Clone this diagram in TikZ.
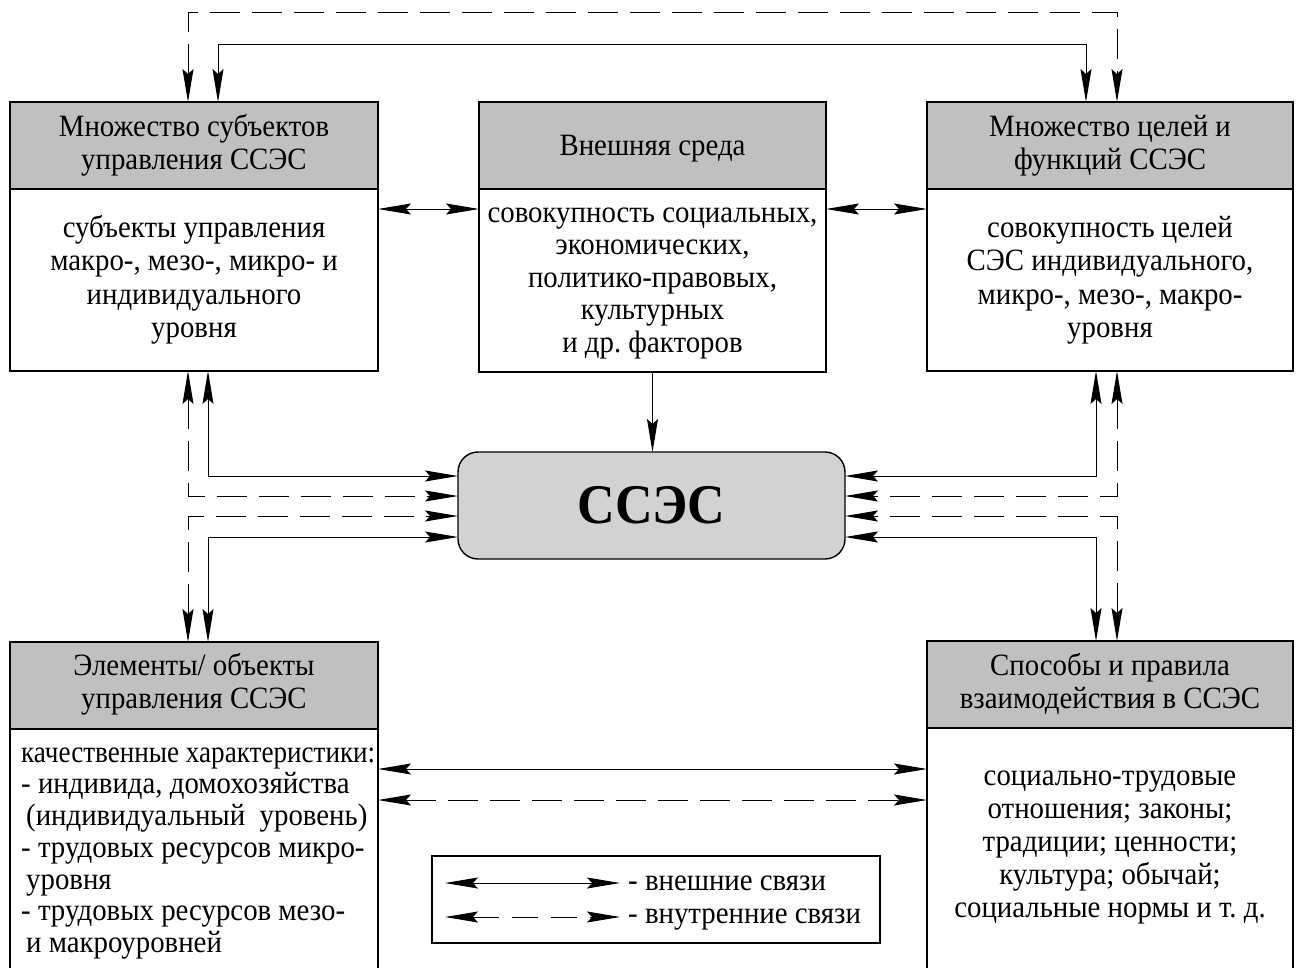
\documentclass[tikz,border=0pt]{standalone}
\usepackage{fontspec}
\setmainfont{Liberation Serif}[FakeStretch=0.93]
\newfontfamily\tightserif{Liberation Serif}[FakeStretch=0.875]
\usetikzlibrary{arrows.meta}

\definecolor{hdrgray}{RGB}{192,192,192}
\definecolor{coregray}{RGB}{210,210,210}

\tikzset{
  tip/.tip={Stealth[length=33pt,width=11pt,inset=5pt]},
  hdr/.style={draw, line width=1.4pt, fill=hdrgray, anchor=north west,
              inner sep=0pt, outer sep=0pt},
  bodybox/.style={draw, line width=1.4pt, fill=white, anchor=north west,
                  inner sep=0pt, outer sep=0pt},
  txt/.style={font=\fontsize{31}{33.5}\selectfont, align=center,
              inner sep=0pt, anchor=north},
  link/.style={line width=1pt, tip-tip},
  ilink/.style={link, dash pattern=on 30pt off 12pt},
}

\begin{document}
\frenchspacing
\begin{tikzpicture}[x=1pt,y=-1pt]
\useasboundingbox (0,0) rectangle (1300,967);
\clip (0,0) rectangle (1300,967);

% --- upper row of blocks ---
\node[hdr, minimum width=368, minimum height=87] (tlh) at (10,102) {};
\node[bodybox, minimum width=368, minimum height=182] (tl) at (tlh.south west) {};
\node[hdr, minimum width=347, minimum height=87] (mh) at (479,102) {};
\node[bodybox, minimum width=347, minimum height=183] (mid) at (mh.south west) {};
\node[hdr, minimum width=366, minimum height=87] (trh) at (927,102) {};
\node[bodybox, minimum width=366, minimum height=182] (tr) at (trh.south west) {};

% --- lower row of blocks (open at the bottom) ---
\node[hdr, minimum width=368, minimum height=87] (blh) at (10,642) {};
\node[bodybox, minimum width=368, minimum height=300] (bl) at (blh.south west) {};
\node[hdr, minimum width=366, minimum height=87] (brh) at (927,641) {};
\node[bodybox, minimum width=366, minimum height=300] (br) at (brh.south west) {};

% --- central block ---
\node[draw, line width=1.4pt, fill=coregray, rounded corners=20pt,
      minimum width=387, minimum height=107, inner sep=0pt, outer sep=0pt,
      font=\fontsize{56}{60}\selectfont\bfseries] (core) at (651.5,505.5) {ССЭС};

% --- texts ---
\node[txt] (tlht) at (194,112.5) {\strut Множество субъектов\\управления ССЭС};
\node[txt] (tlt) at (194,213.5) {\strut субъекты управления\\макро-, мезо-, микро- и\\индивидуального\\уровня};
\node[txt] (mht) at (652.5,131.5) {\strut Внешняя среда};
\node[txt, font=\fontsize{31}{32.5}\selectfont] (midt) at (652.5,199.3)
  {\strut совокупность социальных,\\экономических,\\политико-правовых,\\культурных\\и др. факторов};
\node[txt] (trht) at (1110,112.5) {\strut Множество целей и\\функций ССЭС};
\node[txt] (trt) at (1110,213.5) {\strut совокупность целей\\СЭС индивидуального,\\микро-, мезо-, макро-\\уровня};
\node[txt] (blht) at (194,651.5) {\strut Элементы/ объекты\\управления ССЭС};
\node[txt, align=left, anchor=north west, font=\fontsize{31}{31.7}\selectfont] (blt) at (21,739.8)
  {\strut{\tightserif качественные характеристики:}\\- индивида, домохозяйства\\\hspace*{5pt}(индивидуальный\ \ уровень)\\- трудовых ресурсов микро-\\\hspace*{5pt}уровня\\- трудовых ресурсов мезо-\\\hspace*{5pt}и макроуровней};
\node[txt] (brht) at (1110,651.5) {\strut Способы и правила\\взаимодействия в ССЭС};
\node[txt, font=\fontsize{31}{33}\selectfont] (brt) at (1110,761.9)
  {\strut социально-трудовые\\отношения; законы;\\традиции; ценности;\\культура; обычай;\\социальные нормы и т.~д.};

% --- connectors over the top ---
\coordinate (dTL) at (188,12);  \coordinate (dTR) at (1117,12);
\coordinate (sTL) at (218,44);  \coordinate (sTR) at (1086,44);
\draw[ilink] (tlh.north -| dTL) -- (dTL) -- (dTR) -- (trh.north -| dTR);
\draw[link]  (tlh.north -| sTL) -- (sTL) -- (sTR) -- (trh.north -| sTR);

% --- upper row: side links ---
\coordinate (h1) at (0,209);
\draw[link] (tl.east |- h1) -- (mid.west |- h1);
\draw[link] (mid.east |- h1) -- (tr.west |- h1);
\draw[line width=1pt, -tip] (mid.south) -- (core.north -| mid.south);

% --- left side to the central block ---
\coordinate (a1) at (208,476); \coordinate (a2) at (188,496);
\coordinate (a3) at (188,516); \coordinate (a4) at (208,537);
\draw[link]  (tl.south -| a1)  -- (a1) -- (core.west |- a1);
\draw[ilink] (tl.south -| a2)  -- (a2) -- (core.west |- a2);
\draw[ilink] (blh.north -| a3) -- (a3) -- (core.west |- a3);
\draw[link]  (blh.north -| a4) -- (a4) -- (core.west |- a4);

% --- right side to the central block ---
\coordinate (b1) at (1096,476); \coordinate (b2) at (1117,496);
\coordinate (b3) at (1117,516); \coordinate (b4) at (1096,537);
\draw[link]  (tr.south -| b1)  -- (b1) -- (core.east |- b1);
\draw[ilink] (tr.south -| b2)  -- (b2) -- (core.east |- b2);
\draw[ilink] (brh.north -| b3) -- (b3) -- (core.east |- b3);
\draw[link]  (brh.north -| b4) -- (b4) -- (core.east |- b4);

% --- lower row: links between the blocks ---
\coordinate (h2) at (0,769); \coordinate (h3) at (0,800);
\draw[link]  (bl.east |- h2) -- (br.west |- h2);
\draw[ilink] (bl.east |- h3) -- (br.west |- h3);

% --- legend ---
\node[draw, line width=1.2pt, minimum width=448, minimum height=87,
      anchor=north west, inner sep=0pt, outer sep=0pt] (lg) at (432,856) {};
\coordinate (l1a) at (445,883); \coordinate (l1b) at (620,883);
\coordinate (l2a) at (445,917); \coordinate (l2b) at (620,917);
\draw[link]  (l1a) -- (l1b);
\draw[ilink, dash pattern=on 26pt off 13pt] (l2a) -- (l2b);
\node[txt, align=left, anchor=north west, font=\fontsize{31}{33}\selectfont] (lgt) at (628,866.9)
  {\strut - внешние связи\\- внутренние связи};
\end{tikzpicture}
\end{document}
